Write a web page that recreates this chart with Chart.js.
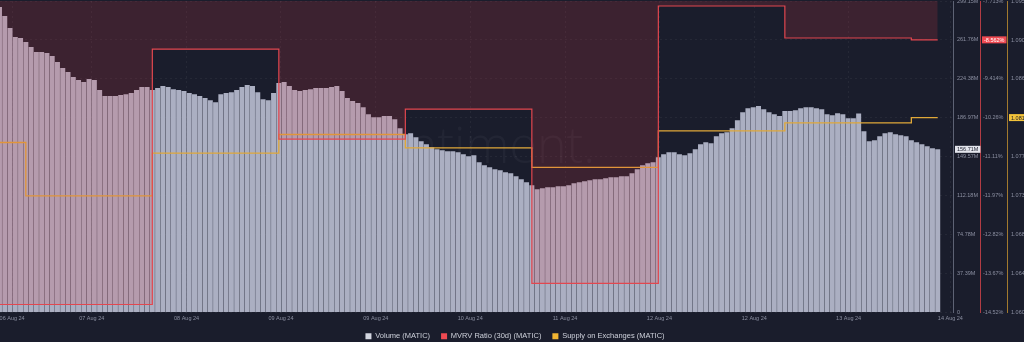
<!DOCTYPE html>
<html>
<head>
<meta charset="utf-8">
<script src="https://cdn.jsdelivr.net/npm/chart.js@4.4.1/dist/chart.umd.min.js"></script>
<style>
html, body { margin: 0; padding: 0; background: #1a1d2c; overflow: hidden; }
#wrap { width: 1030px; height: 342px; }
</style>
</head>
<body>
<div id="wrap"><canvas id="myChart" width="1030" height="342"></canvas></div>
<script>
// hourly rolling volume (millions MATIC), starting 06 Aug 19:00
const volume = [
  293.4, 284.8, 273.2, 264.6, 263.6, 259.7, 254.9, 250.1, 250.1, 249.2,
  246.3, 240.5, 234.7, 230.9, 226.1, 223.2, 221.3, 224.2, 223.2, 213.6,
  207.8, 207.8, 207.8, 208.8, 209.7, 210.7, 213.6, 216.5, 216.5, 213.6,
  215.5, 217.4, 216.5, 214.5, 213.6, 212.6, 210.7, 209.7, 207.8, 205.9,
  203.9, 202.0, 209.7, 210.7, 211.6, 213.6, 216.5, 218.4, 217.4, 211.6,
  204.9, 203.9, 210.7, 220.3, 221.3, 217.4, 213.6, 212.6, 213.6, 214.5,
  215.5, 215.5, 215.5, 216.5, 217.4, 212.6, 205.9, 203.0, 201.1, 197.2,
  190.5, 187.6, 187.6, 188.6, 188.6, 185.7, 177.0, 171.2, 172.2, 168.4,
  164.5, 161.6, 158.7, 156.8, 155.8, 154.9, 154.9, 153.9, 152.0, 150.1,
  151.0, 144.3, 141.4, 139.5, 137.6, 136.6, 134.7, 133.7, 130.8, 127.9,
  125.1, 122.2, 118.3, 119.3, 120.3, 120.3, 121.2, 121.2, 122.2, 124.1,
  125.1, 126.0, 127.0, 127.9, 127.9, 128.9, 129.9, 129.9, 130.8, 130.8,
  133.7, 137.6, 141.4, 143.3, 144.3, 149.1, 152.0, 153.9, 153.9, 152.0,
  151.0, 152.9, 156.8, 161.6, 163.5, 162.6, 169.3, 172.2, 173.2, 177.0,
  184.7, 192.4, 196.2, 197.2, 198.2, 195.3, 192.4, 190.5, 188.6, 193.4,
  193.4, 194.3, 196.2, 197.2, 197.2, 196.2, 195.3, 190.5, 189.5, 191.4,
  190.5, 186.6, 186.6, 191.0, 174.1, 164.5, 165.5, 169.3, 172.2, 173.2,
  171.2, 170.3, 169.3, 165.5, 163.5, 161.6, 159.7, 157.8, 156.71
];
const firstHour = 19; // hours after 06 Aug 00:00

// daily metrics, x = hours after 06 Aug 00:00 (last entry = latest point)
const dayHours = [0, 24, 48, 72, 96, 120, 144, 168, 192, 197];
const mvrv = [-14.345, -14.345, -8.763, -10.733, -10.076, -13.885, -7.822, -8.522, -8.562, -8.562];
const supply = [1.0791, 1.0731, 1.0779, 1.0800, 1.0785, 1.0763, 1.0804, 1.0813, 1.0819, 1.0819];

const xTickHours = [21.4, 36.5, 54.5, 72.4, 90.4, 108.3, 126.3, 144.2, 162.2, 180.1, 199.4];
const xTickLabels = ['06 Aug 24', '07 Aug 24', '08 Aug 24', '09 Aug 24', '09 Aug 24', '10 Aug 24',
                     '11 Aug 24', '12 Aug 24', '12 Aug 24', '13 Aug 24', '14 Aug 24'];

const volTicks = [0, 37.39, 74.79, 112.18, 149.58, 186.97, 224.36, 261.76, 299.15];
const volTickLabels = ['0', '37.39M', '74.78M', '112.18M', '149.57M', '186.97M', '224.38M', '261.76M', '299.15M'];
const mvrvTicks = [-14.52, -13.669, -12.818, -11.967, -11.116, -10.265, -9.414, -8.563, -7.713];
const mvrvTickLabels = ['-14.52%', '-13.67%', '-12.82%', '-11.97%', '-11.11%', '-10.26%', '-9.414%', '-8.563%', '-7.713%'];
const supplyTicks = [1.060, 1.0644, 1.0688, 1.0731, 1.0775, 1.0819, 1.0863, 1.0906, 1.095];
const supplyTickLabels = ['1.0600B', '1.0644B', '1.0688B', '1.0731B', '1.0775B', '1.0819B', '1.0863B', '1.0906B', '1.0950B'];

let hours = [];
for (let i = 0; i < volume.length; i++) {
    hours.push(firstHour + i);
}
let mvrvPoints = [];
let supplyPoints = [];
for (let i = 0; i < dayHours.length; i++) {
    mvrvPoints.push({x: dayHours[i], y: mvrv[i]});
    supplyPoints.push({x: dayHours[i], y: supply[i]});
}

const legendColors = ['#d3d6e0', '#ef4a52', '#f2b532'];
const tickFont = {family: 'Liberation Sans', size: 5.5};
const tickColor = '#8b8fa1';

const watermark = {
    id: 'watermark',
    beforeDatasetsDraw(chart) {
        const a = chart.chartArea;
        const ctx = chart.ctx;
        ctx.save();
        ctx.font = '300 50px "Open Sans"';
        ctx.fillStyle = 'rgba(255,255,255,0.04)';
        ctx.textAlign = 'center';
        ctx.textBaseline = 'alphabetic';
        ctx.fillText('santiment.', (a.left + a.right) / 2, (a.top + a.bottom) / 2 + 6);
        ctx.restore();
    }
};

const lastLabels = {
    id: 'lastLabels',
    afterDraw(chart) {
        const ctx = chart.ctx;
        const items = [
            {scale: 'yVol', value: volume[volume.length - 1], text: volume[volume.length - 1].toFixed(2) + 'M', bg: '#e3e5ed', fg: '#1a1d2c'},
            {scale: 'yMvrv', value: mvrv[mvrv.length - 1], text: mvrv[mvrv.length - 1].toFixed(3) + '%', bg: '#ef4a52', fg: '#ffffff'},
            {scale: 'ySupply', value: supply[supply.length - 1], text: supply[supply.length - 1].toFixed(4) + 'B', bg: '#f2c23a', fg: '#1a1d2c'}
        ];
        ctx.save();
        ctx.font = '5.5px "Liberation Sans"';
        ctx.textBaseline = 'middle';
        items.forEach(it => {
            const s = chart.scales[it.scale];
            const y = s.getPixelForValue(it.value);
            const w = ctx.measureText(it.text).width + 4;
            ctx.fillStyle = it.bg;
            ctx.fillRect(s.left + 2, y - 3.5, w, 7);
            ctx.fillStyle = it.fg;
            ctx.fillText(it.text, s.left + 4, y + 0.5);
        });
        ctx.restore();
    }
};

var ctx = document.getElementById('myChart');

var myChart = new Chart(ctx, {
    type: 'bar',
    data: {
        labels: hours,
        datasets: [{
            label: 'Volume (MATIC)',
            data: volume,
            yAxisID: 'yVol',
            backgroundColor: '#abafc2',
            barPercentage: 0.95,
            categoryPercentage: 1,
            order: 3
        }, {
            type: 'line',
            label: 'MVRV Ratio (30d) (MATIC)',
            data: mvrvPoints,
            yAxisID: 'yMvrv',
            stepped: true,
            borderColor: '#e2474f',
            borderWidth: 1.2,
            backgroundColor: 'rgba(230,60,70,0.17)',
            fill: 'end',
            pointRadius: 0,
            order: 1
        }, {
            type: 'line',
            label: 'Supply on Exchanges (MATIC)',
            data: supplyPoints,
            yAxisID: 'ySupply',
            stepped: true,
            borderColor: '#e0a838',
            borderWidth: 1.3,
            fill: false,
            pointRadius: 0,
            order: 2
        }]
    },
    options: {
        responsive: false,
        animation: false,
        layout: {padding: {top: 1, left: 0, right: 0, bottom: -8}},
        plugins: {
            tooltip: {enabled: false},
            legend: {
                position: 'bottom',
                labels: {
                    color: '#cdd0da',
                    font: {family: 'Liberation Sans', size: 7.5},
                    boxWidth: 6,
                    boxHeight: 6,
                    padding: 11,
                    sort: (a, b) => a.datasetIndex - b.datasetIndex,
                    generateLabels: function (chart) {
                        const items = Chart.defaults.plugins.legend.labels.generateLabels(chart);
                        items.forEach(it => {
                            it.fillStyle = legendColors[it.datasetIndex];
                            it.strokeStyle = legendColors[it.datasetIndex];
                            it.lineWidth = 0;
                        });
                        return items;
                    }
                }
            }
        },
        scales: {
            x: {
                type: 'linear',
                min: 19.1,
                max: 199.9,
                offset: false,
                grid: {offset: false, color: 'rgba(255,255,255,0.05)', drawTicks: false},
                border: {display: false, dash: [2, 3]},
                afterBuildTicks: s => { s.ticks = xTickHours.map(v => ({value: v})); },
                afterFit: s => { s.paddingLeft = 0; s.paddingRight = 0; s.height = 9; },
                ticks: {
                    autoSkip: false,
                    maxRotation: 0,
                    padding: 2.5,
                    color: tickColor,
                    font: tickFont,
                    callback: (v, i) => xTickLabels[i]
                }
            },
            yVol: {
                position: 'right',
                weight: 0,
                min: 0,
                max: 299.15,
                grid: {color: 'rgba(255,255,255,0.05)', drawTicks: false},
                border: {display: true, color: '#5e6375', dash: [2, 3]},
                afterBuildTicks: s => { s.ticks = volTicks.map(v => ({value: v})); },
                afterFit: s => { s.width = 27; s.paddingTop = 0; s.paddingBottom = 0; },
                ticks: {padding: 4, color: tickColor, font: tickFont, callback: (v, i) => volTickLabels[i]}
            },
            yMvrv: {
                position: 'right',
                weight: 1,
                min: -14.52,
                max: -7.713,
                grid: {display: false, drawTicks: false},
                border: {display: true, color: '#b23c44'},
                afterBuildTicks: s => { s.ticks = mvrvTicks.map(v => ({value: v})); },
                afterFit: s => { s.width = 27; s.paddingTop = 0; s.paddingBottom = 0; },
                ticks: {padding: 3, color: tickColor, font: tickFont, callback: (v, i) => mvrvTickLabels[i]}
            },
            ySupply: {
                position: 'right',
                weight: 2,
                min: 1.060,
                max: 1.095,
                grid: {display: false, drawTicks: false},
                border: {display: true, color: '#a27a2e'},
                afterBuildTicks: s => { s.ticks = supplyTicks.map(v => ({value: v})); },
                afterFit: s => { s.width = 23; s.paddingTop = 0; s.paddingBottom = 0; },
                ticks: {padding: 4, color: tickColor, font: tickFont, callback: (v, i) => supplyTickLabels[i]}
            }
        }
    },
    plugins: [watermark, lastLabels]
});
</script>
</body>
</html>
